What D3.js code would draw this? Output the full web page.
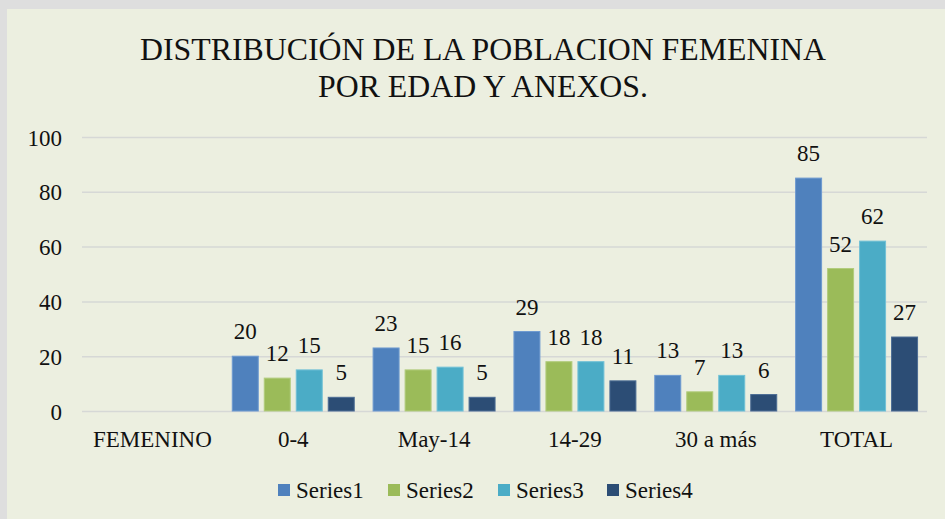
<!DOCTYPE html>
<html>
<head>
<meta charset="utf-8">
<script src="https://cdn.jsdelivr.net/npm/d3@7"></script>
<style>
html,body{margin:0;padding:0;background:#ffffff;}
svg{display:block;}
</style>
</head>
<body>
<svg id="chart" width="945" height="519"></svg>
<script>
const titleLines = ["DISTRIBUCIÓN DE LA POBLACION FEMENINA", "POR EDAD Y ANEXOS."];
const categories = ["FEMENINO", "0-4", "May-14", "14-29", "30 a más", "TOTAL"];
const seriesNames = ["Series1", "Series2", "Series3", "Series4"];
const series1 = [null, 20, 23, 29, 13, 85];
const series2 = [null, 12, 15, 18, 7, 52];
const series3 = [null, 15, 16, 18, 13, 62];
const series4 = [null, 5, 5, 11, 6, 27];
const yTicks = [0, 20, 40, 60, 80, 100];
const colors = ["#4F81BD", "#9BBB59", "#4BACC6", "#2C4D75"];
const strokeColors = ["#6E9AD0", "#B2CC7C", "#71C1D6", "#4C6C94"];

const seriesValues = [series1, series2, series3, series4];
const svg = d3.select("#chart");
const W = 945, H = 519;
const FONT = '"Liberation Serif", monospace';

svg.append("rect").attr("x", 0).attr("y", 0).attr("width", W).attr("height", H).attr("fill", "#DEDEDE");
svg.append("rect").attr("x", 7).attr("y", 9).attr("width", W - 7).attr("height", H - 9).attr("fill", "#ECEFE0");

// title
const title = svg.append("g");
title.append("text").attr("x", 483).attr("y", 59.5).attr("text-anchor", "middle")
  .attr("font-size", 32).attr("textLength", 686).attr("lengthAdjust", "spacingAndGlyphs").text(titleLines[0]);
title.append("text").attr("x", 483).attr("y", 96.5).attr("text-anchor", "middle")
  .attr("font-size", 32).attr("textLength", 330).attr("lengthAdjust", "spacingAndGlyphs").text(titleLines[1]);

const plotL = 82, plotR = 927, plotT = 137, plotB = 411;
const y = d3.scaleLinear().domain([0, 100]).range([plotB, plotT]);
const x0 = d3.scaleBand().domain(categories).range([plotL, plotR]).padding(0);
const groupW = x0.bandwidth() * 0.866;
const x1 = d3.scaleBand().domain(seriesNames).range([0, groupW]).paddingInner(0.1875).paddingOuter(0);
const groupOffset = (x0.bandwidth() - groupW) / 2;

// gridlines
const grid = svg.append("g").attr("transform", `translate(${plotL},0)`)
  .call(d3.axisLeft(y).tickValues(yTicks).tickSize(-(plotR - plotL)).tickFormat(""));
grid.select(".domain").remove();
grid.selectAll(".tick line").attr("stroke", "#D6D8D6").attr("stroke-width", 1.5);

// y labels
const yAx = svg.append("g").attr("transform", `translate(62,0)`)
  .call(d3.axisLeft(y).tickValues(yTicks).tickSize(0).tickPadding(0));
yAx.select(".domain").remove();
yAx.selectAll("text").attr("font-size", 23).attr("dy", "0.35em");

// x labels
const xAx = svg.append("g").attr("transform", `translate(0,${plotB})`)
  .call(d3.axisBottom(x0).tickSize(0).tickPadding(0));
xAx.select(".domain").remove();
xAx.selectAll("text").attr("font-size", 23).attr("dy", 0).attr("y", 36);

// bars
const rows = [];
categories.forEach((c, i) => {
  seriesNames.forEach((s, j) => {
    const v = seriesValues[j][i];
    if (v !== null && v !== undefined) rows.push({ c, s, v, j });
  });
});
const barG = svg.append("g");
barG.selectAll("rect").data(rows).join("rect")
  .attr("x", d => x0(d.c) + groupOffset + x1(d.s))
  .attr("y", d => y(d.v))
  .attr("width", x1.bandwidth())
  .attr("height", d => y(0) - y(d.v))
  .attr("fill", d => colors[d.j])
  .attr("stroke", d => strokeColors[d.j])
  .attr("stroke-width", 1);

barG.selectAll("text").data(rows).join("text")
  .attr("x", d => x0(d.c) + groupOffset + x1(d.s) + x1.bandwidth() / 2)
  .attr("y", d => y(d.v) - 17)
  .attr("text-anchor", "middle")
  .attr("font-size", 23)
  .text(d => d.v);

// legend
const legX = [278, 388, 498, 607];
const leg = svg.append("g");
seriesNames.forEach((s, j) => {
  leg.append("rect").attr("x", legX[j]).attr("y", 484).attr("width", 12).attr("height", 12).attr("fill", colors[j]);
  leg.append("text").attr("x", legX[j] + 18).attr("y", 498).attr("font-size", 23).text(s);
});

svg.selectAll("text").style("font-family", FONT).style("fill", "#111");
</script>
</body>
</html>
